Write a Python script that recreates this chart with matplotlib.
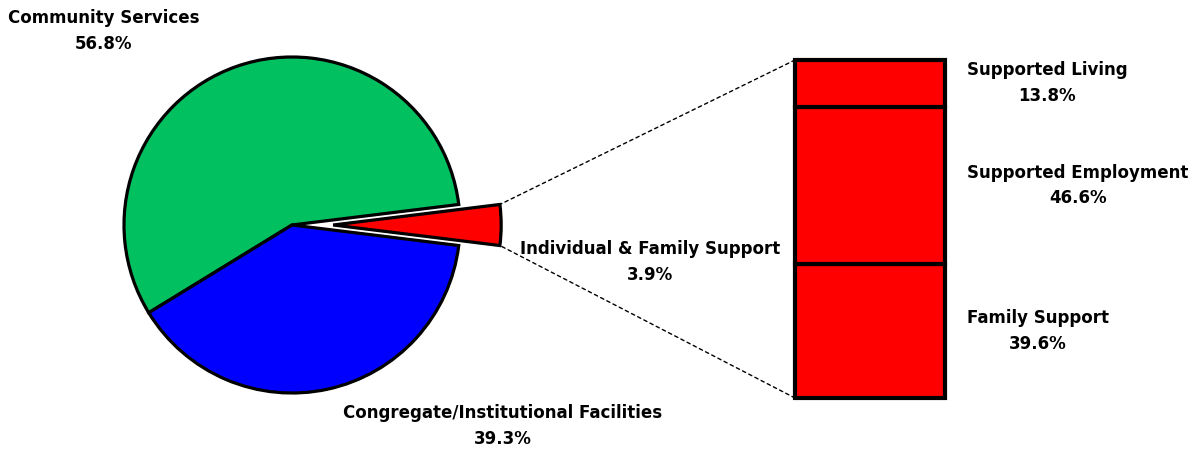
import numpy as np
import matplotlib.pyplot as plt
from matplotlib.patches import ConnectionPatch

# ==========================================
# Data
# ==========================================
pie_labels = ['Individual & Family Support', 'Community Services',
              'Congregate/Institutional Facilities']
pie_values = [3.9, 56.8, 39.3]
pie_colors = ['#FF0000', '#00C060', '#0000FF']

bar_labels = ['Family Support', 'Supported Employment', 'Supported Living']
bar_values = [39.6, 46.6, 13.8]

plt.rcParams.update({
    'font.family': 'DejaVu Sans',
    'font.weight': 'bold',
    'font.size': 12,
})

W, H = 1196, 451
fig = plt.figure(figsize=(W / 100, H / 100), dpi=100)

# pie axes in pixel units (y up)
ax = fig.add_axes([0, 0, 1, 1])
cx, cy, r = 292, 226, 168
start = -pie_values[0] / 100 * 360 / 2
wedges, _ = ax.pie(pie_values, colors=pie_colors, startangle=start,
                   center=(cx, cy), radius=r, explode=[0.245 * r, 0, 0],
                   wedgeprops=dict(edgecolor='black', linewidth=2.3))
ax.set_xlim(0, W)
ax.set_ylim(0, H)
ax.set_aspect('auto')
ax.axis('off')

txt = dict(ha='center', va='center', fontweight='bold', linespacing=1.55)
ax.text(104, H - 31, f'{pie_labels[1]}\n{pie_values[1]}%', **txt)
ax.text(503, H - 426, f'{pie_labels[2]}\n{pie_values[2]}%', **txt)
ax.text(650, H - 262, f'{pie_labels[0]}\n{pie_values[0]}%', **txt)

# stacked bar of the exploded slice
bx0, by0, bw, bh = 795, 398, 150, 338
ax2 = fig.add_axes([bx0 / W, (H - by0) / H, bw / W, bh / H])
bottom = 0
for lab, val in zip(bar_labels, bar_values):
    ax2.bar(0, val, 1, bottom=bottom, color='#FF0000', edgecolor='black',
            linewidth=3, clip_on=False)
    ax2.text(0.5 + 22 / bw, bottom + val / 2, f'{lab}\n{val}%',
             ha='left', va='center', multialignment='center',
             fontweight='bold', linespacing=1.55)
    bottom += val
ax2.set_xlim(-0.5, 0.5)
ax2.set_ylim(0, bottom)
ax2.axis('off')

# connecting lines
w = wedges[0]
wx, wy = w.center
for ang, yb in [(w.theta2, bottom), (w.theta1, 0)]:
    px = wx + w.r * np.cos(np.radians(ang))
    py = wy + w.r * np.sin(np.radians(ang))
    con = ConnectionPatch(xyA=(-0.5, yb), coordsA=ax2.transData,
                          xyB=(px, py), coordsB=ax.transData,
                          color='black', linewidth=1, linestyle=(0, (2.5, 2.5)))
    fig.add_artist(con)

fig.savefig('out.png', dpi=100)
